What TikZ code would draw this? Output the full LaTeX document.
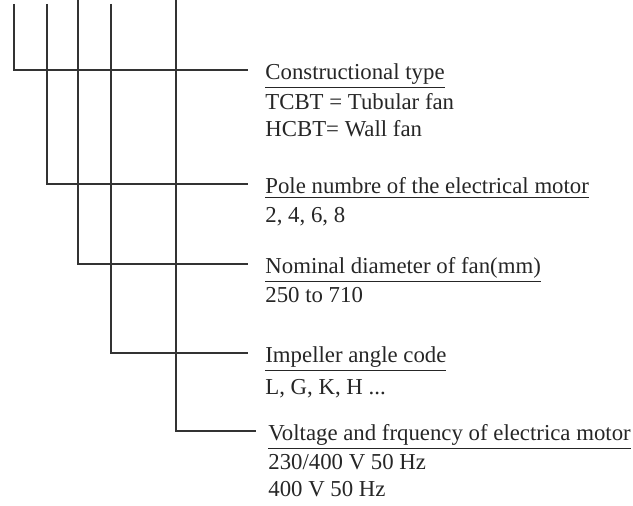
\documentclass[tikz,border=0pt]{standalone}
\usepackage{fontspec}
\setmainfont{Liberation Serif}
\usetikzlibrary{positioning}

\tikzset{
  lead/.style={draw=black!80, line width=0.55pt, shorten >=8.5pt},
  head/.style={inner sep=0pt, anchor=west, text=black!85,
    text height=10pt, text depth=0pt,
    font=\fontsize{11.4}{13.2}\selectfont},
  vals/.style={inner sep=0pt, align=left, text=black!85,
    font=\fontsize{11.4}{13.2}\selectfont}
}

\begin{document}
\begin{tikzpicture}[x=0.5pt, y=-0.5pt]
        % canvas
        \useasboundingbox (0,0) rectangle (633,506);

        % tops of the code lines
        \coordinate (top1) at (14,4);
        \coordinate (top2) at (47,4);
        \coordinate (top3) at (78,0);
        \coordinate (top4) at (111,4);
        \coordinate (top5) at (176,0);

        % Headings
        \node[head] (t1) at (265,70) {\underline{Constructional type}};
        \node[head] (t2) at (265,184) {\underline{Pole numbre of the electrical motor}};
        \node[head] (t3) at (265,264) {\underline{Nominal diameter of fan(mm)}};
        \node[head] (t4) at (265,353) {\underline{Impeller angle code}};
        \node[head] (t5) at (268,431) {\underline{Voltage and frquency of electrica motor}};

        % Values
        \node[vals, below=6.5pt of t1.south west, anchor=north west] (v1) {TCBT = Tubular fan\\HCBT= Wall fan};
        \node[vals, below=6.5pt of t2.south west, anchor=north west] (v2) {2, 4, 6, 8};
        \node[vals, below=6.5pt of t3.south west, anchor=north west] (v3) {250 to 710};
        \node[vals, below=8pt of t4.south west, anchor=north west] (v4) {L, G, K, H ...};
        \node[vals, below=6.5pt of t5.south west, anchor=north west] (v5) {230/400 V 50 Hz\\400 V 50 Hz};

        % Leaders
        \draw[lead] (top1) |- (t1);
        \draw[lead] (top2) |- (t2);
        \draw[lead] (top3) |- (t3);
        \draw[lead] (top4) |- (t4);
        \draw[lead, shorten >=6pt] (top5) |- (t5);

\end{tikzpicture}
\end{document}
